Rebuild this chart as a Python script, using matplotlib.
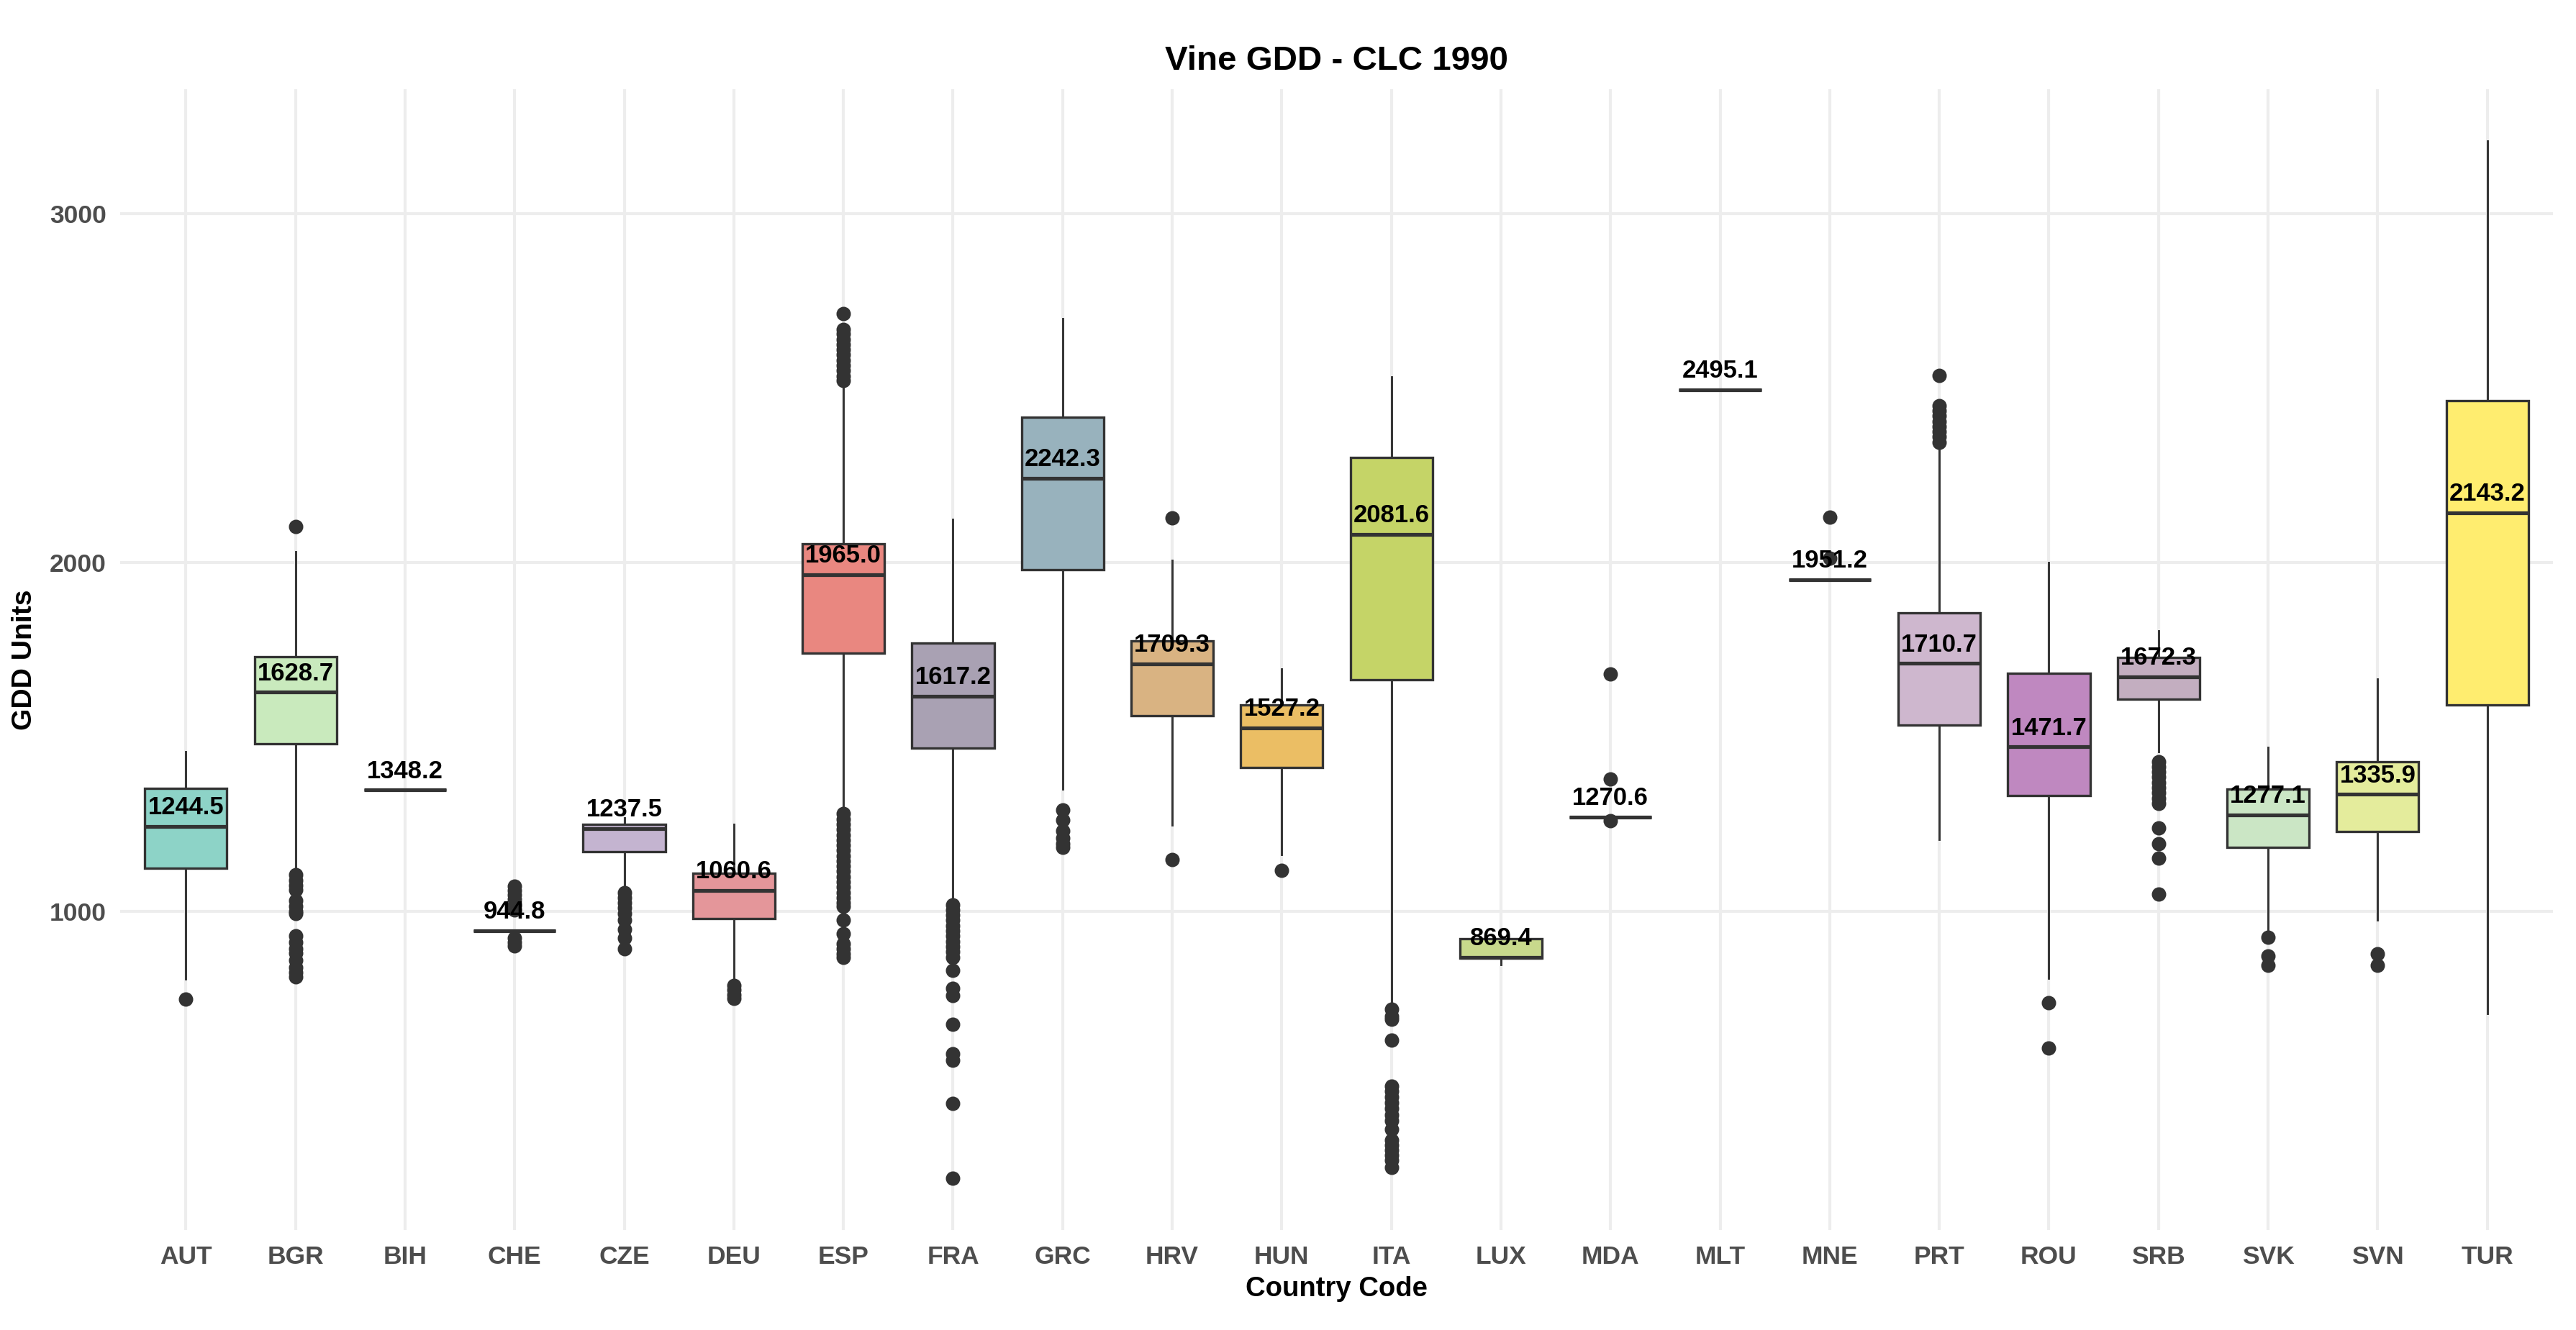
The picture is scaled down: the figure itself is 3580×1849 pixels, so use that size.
import matplotlib
matplotlib.use("Agg")
import matplotlib.pyplot as plt
import numpy as np
from matplotlib.colors import to_rgb, to_hex

# ---------------- data ----------------
countries = ["AUT", "BGR", "BIH", "CHE", "CZE", "DEU", "ESP", "FRA", "GRC", "HRV", "HUN",
             "ITA", "LUX", "MDA", "MLT", "MNE", "PRT", "ROU", "SRB", "SVK", "SVN", "TUR"]

medians = [1244.5, 1628.7, 1348.2, 944.8, 1237.5, 1060.6, 1965.0, 1617.2, 2242.3, 1709.3, 1527.2,
           2081.6, 869.4, 1270.6, 2495.1, 1951.2, 1710.7, 1471.7, 1672.3, 1277.1, 1335.9, 2143.2]
q1 = [1125, 1480, 1348.2, 944.8, 1171, 979, 1740, 1468, 1980, 1561, 1413,
      1665, 866, 1270.6, 2495.1, 1951.2, 1535, 1333, 1609, 1183, 1229, 1593]
q3 = [1353, 1730, 1348.2, 944.8, 1250, 1110, 2053, 1770, 2417, 1775, 1592,
      2301, 923, 1270.6, 2495.1, 1951.2, 1857, 1682, 1728, 1351, 1429, 2465]
whisker_low = [807, 1120, 1348.2, 944.8, 1068, 794, 1290, 1030, 1350, 1248, 1163,
               740, 848, 1270.6, 2495.1, 1951.2, 1206, 808, 1459, 946, 976, 707]
whisker_high = [1459, 2031, 1348.2, 944.8, 1268, 1250, 2515, 2124, 2699, 2006, 1695,
                2532, 923, 1270.6, 2495.1, 1951.2, 2335, 2000, 1804, 1471, 1666, 3208]

outliers = {
    "AUT": [750],
    "BGR": [2104, 1106, 1090, 1075, 1062, 1031, 1015, 1000, 994, 931, 912, 894, 881, 860, 840, 825, 812],
    "BIH": [],
    "CHE": [1072, 1060, 1048, 1035, 1020, 1005, 925, 912, 902],
    "CZE": [1055, 1040, 1025, 1010, 995, 975, 950, 925, 894],
    "DEU": [788, 775, 762, 752],
    "ESP": [2713, 2669, 2655, 2640, 2625, 2610, 2595, 2580, 2565, 2550, 2535, 2522,
            1281, 1265, 1250, 1235, 1220, 1205, 1190, 1175, 1160, 1145, 1130, 1115, 1100,
            1085, 1070, 1055, 1040, 1025, 1015, 976, 937, 907, 893, 878, 868],
    "FRA": [1019, 1005, 990, 975, 960, 945, 930, 915, 900, 885, 868, 832, 779, 760, 677,
            592, 573, 450, 236],
    "GRC": [1291, 1262, 1232, 1210, 1195, 1183],
    "HRV": [2128, 1149],
    "HUN": [1118],
    "ITA": [720, 700, 691, 632, 500, 485, 469, 452, 435, 418, 401, 375, 346, 330, 317, 302, 287, 267],
    "LUX": [],
    "MDA": [1681, 1380, 1260],
    "MLT": [],
    "MNE": [2131, 2012],
    "PRT": [2536, 2449, 2435, 2420, 2405, 2390, 2375, 2360, 2345],
    "ROU": [739, 608],
    "SRB": [1429, 1415, 1400, 1385, 1370, 1355, 1340, 1325, 1310, 1240, 1195, 1153, 1049],
    "SVK": [927, 872, 845],
    "SVN": [879, 845],
    "TUR": [],
}

title = "Vine GDD - CLC 1990"
xlabel = "Country Code"
ylabel = "GDD Units"
yticks = [1000, 2000, 3000]

# ---------------- style ----------------
set3 = ["#8DD3C7", "#FFFFB3", "#BEBADA", "#FB8072", "#80B1D3", "#FDB462",
        "#B3DE69", "#FCCDE5", "#D9D9D9", "#BC80BD", "#CCEBC5", "#FFED6F"]

def ramp(cols, n):
    rgb = np.array([to_rgb(c) for c in cols])
    t = np.linspace(0, len(cols) - 1, n)
    out = []
    for v in t:
        i = int(np.floor(v))
        if i >= len(cols) - 1:
            out.append(rgb[-1])
        else:
            f = v - i
            out.append(rgb[i] * (1 - f) + rgb[i + 1] * f)
    return [to_hex(c) for c in out]

fills = ramp(set3, len(countries))

plt.rcParams['font.family'] = ['Liberation Sans', 'DejaVu Sans']

W, H, DPI = 3580, 1849, 300
fig = plt.figure(figsize=(W / DPI, H / DPI), dpi=DPI)
ax = fig.add_axes([167 / W, 1 - 1710 / H, (3548 - 167) / W, (1710 - 124) / H])

positions = np.arange(len(countries))
stats = []
for i, c in enumerate(countries):
    stats.append(dict(med=medians[i], q1=q1[i], q3=q3[i],
                      whislo=whisker_low[i], whishi=whisker_high[i],
                      fliers=np.array(outliers[c], dtype=float), label=c))

edge = "#333333"
bp = ax.bxp(stats, positions=positions, widths=0.75, patch_artist=True,
            showcaps=False, showfliers=True,
            boxprops=dict(edgecolor=edge, linewidth=0.8),
            medianprops=dict(color=edge, linewidth=1.25, solid_capstyle='butt'),
            whiskerprops=dict(color=edge, linewidth=0.7),
            flierprops=dict(marker='o', markerfacecolor=edge, markeredgecolor=edge,
                            markersize=3.8, linestyle='none'),
            zorder=3)
for patch, col in zip(bp['boxes'], fills):
    patch.set_facecolor(col)
    patch.set_zorder(3)

for i, m in enumerate(medians):
    ax.annotate(f"{m:.1f}", xy=(positions[i], m), xytext=(0, 6.3),
                textcoords="offset points", ha="center", va="center",
                fontsize=8.3, fontweight="bold", color="black", zorder=5)

# axes limits (ggplot-like 5% expansion)
all_vals = np.concatenate([np.array(whisker_low), np.array(whisker_high)] +
                          [np.array(v, dtype=float) for v in outliers.values() if len(v)])
lo, hi = all_vals.min(), all_vals.max()
rng = hi - lo
ax.set_ylim(lo - 0.05 * rng, hi + 0.05 * rng)
ax.set_xlim(-0.6, len(countries) - 1 + 0.6)

ax.set_xticks(positions)
ax.set_xticklabels(countries)
ax.set_yticks(yticks)
ax.set_yticklabels([str(v) for v in yticks])

for s in ax.spines.values():
    s.set_visible(False)
ax.tick_params(axis='both', length=0, labelsize=8.5, labelcolor="#4D4D4D")
ax.tick_params(axis='x', pad=5.0)
ax.tick_params(axis='y', pad=4.6)
for lab in ax.get_xticklabels() + ax.get_yticklabels():
    lab.set_fontweight("bold")

ax.grid(True, color="#EDEDED", linewidth=1.0, zorder=0)
ax.set_axisbelow(True)

ax.set_xlabel(xlabel, fontsize=9.2, fontweight="bold", color="black", labelpad=2.5)
ax.set_ylabel(ylabel, fontsize=9.4, fontweight="bold", color="black", labelpad=4)
ax.set_title(title, fontsize=11.4, fontweight="bold", color="black", pad=6.5)

fig.savefig("out.png", dpi=DPI, facecolor="white")
